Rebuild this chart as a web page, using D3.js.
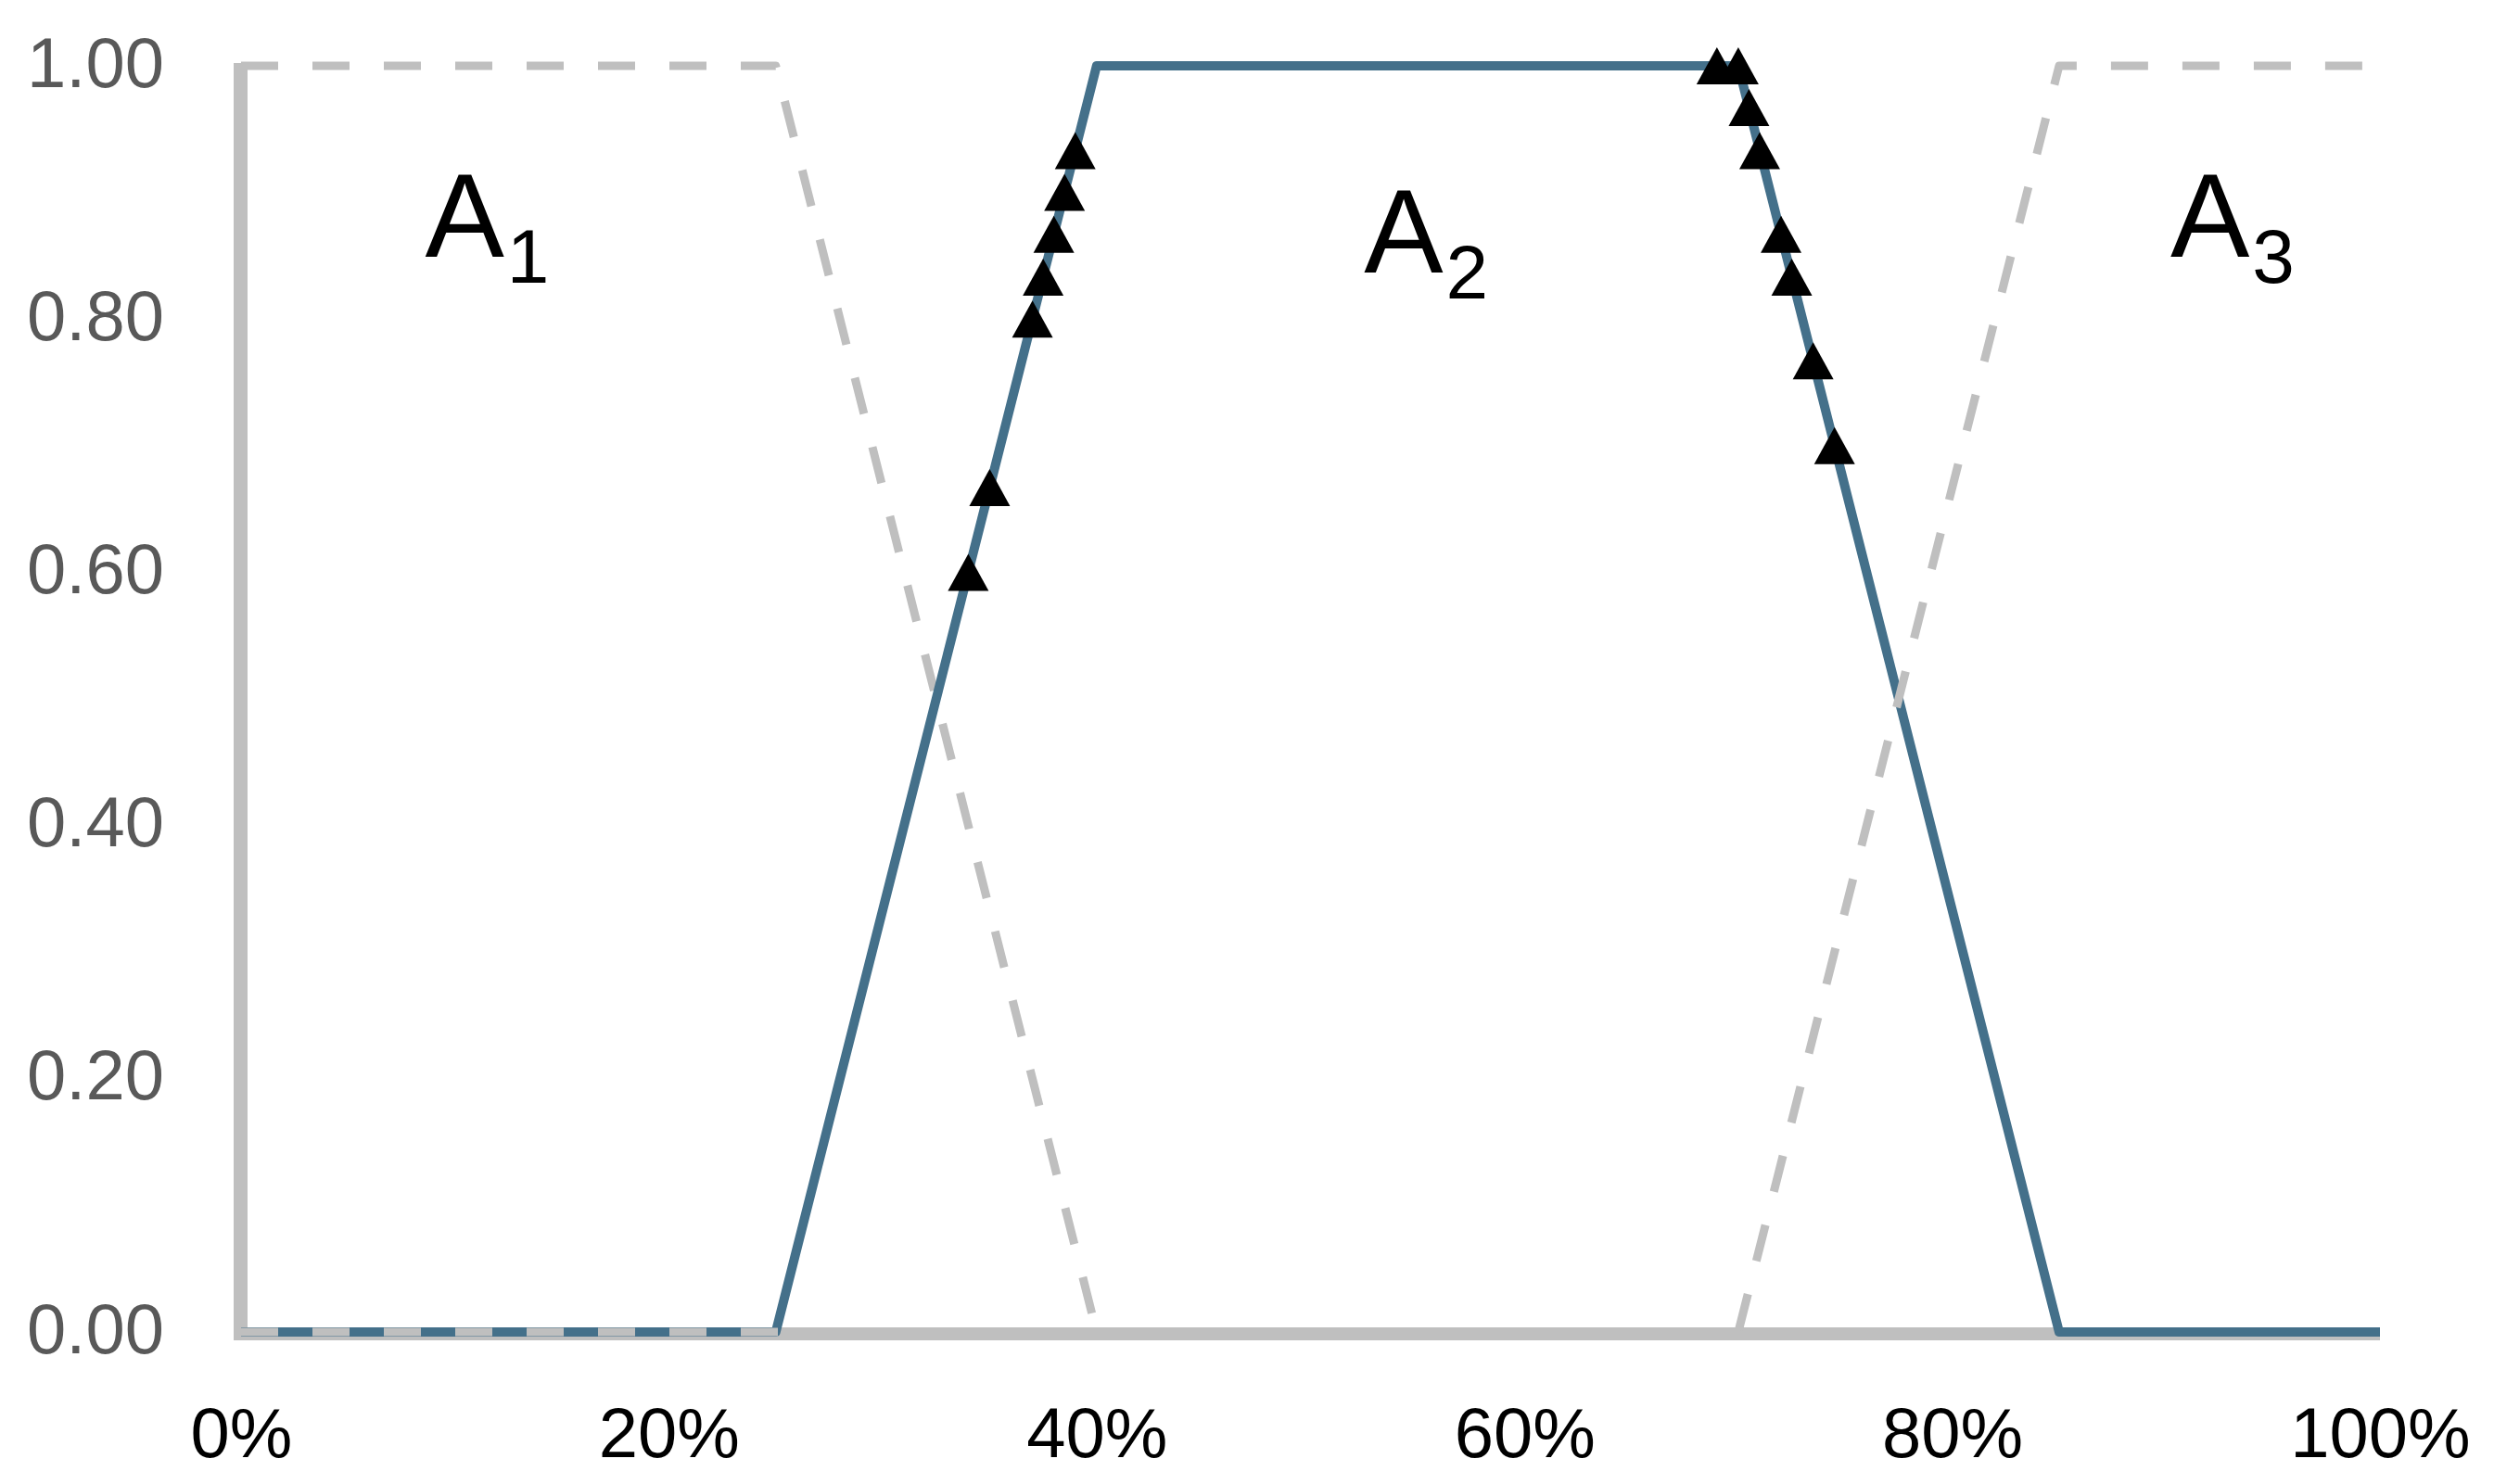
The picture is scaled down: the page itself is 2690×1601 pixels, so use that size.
<!DOCTYPE html>
<html>
<head>
<meta charset="utf-8">
<script src="https://cdn.jsdelivr.net/npm/d3@7"></script>
<style>
  html, body { margin: 0; padding: 0; background: #ffffff; }
  svg { display: block; }
</style>
</head>
<body>
<script>
// ---- data ----
const xTickValues = [0, 0.2, 0.4, 0.6, 0.8, 1.0];
const yTickValues = [0, 0.2, 0.4, 0.6, 0.8, 1.0];

const a1X = [0, 0.25, 0.40, 1.00];
const a1Y = [1, 1, 0, 0];

const a2X = [0, 0.25, 0.40, 0.70, 0.85, 1.00];
const a2Y = [0, 0, 1, 1, 0, 0];

const a3X = [0, 0.70, 0.85, 1.00];
const a3Y = [0, 0, 1, 1];

const obsX = [0.340, 0.350, 0.370, 0.375, 0.380, 0.385, 0.390,
              0.690, 0.700, 0.705, 0.710, 0.720, 0.725, 0.735, 0.745];
const obsY = [0.600, 0.667, 0.800, 0.833, 0.867, 0.900, 0.933,
              1.000, 1.000, 0.967, 0.933, 0.867, 0.833, 0.767, 0.700];

const labelMain = ["A", "A", "A"];
const labelSub = ["1", "2", "3"];
const labelX = [0.086, 0.525, 0.902];
const labelY = [0.849, 0.837, 0.849];

// ---- layout ----
const W = 2690, H = 1601;
const x = d3.scaleLinear().domain([0, 1]).range([260, 2567]);
const y = d3.scaleLinear().domain([0, 1]).range([1437, 71]);

const svg = d3.select("body").append("svg")
  .attr("width", W).attr("height", H)
  .style("font-family", "'Liberation Sans', Arial, sans-serif");

svg.append("rect").attr("width", W).attr("height", H).attr("fill", "#ffffff");

const grey = "#bfbfbf";
const blue = "#44708a";

// axis lines
svg.append("line")
  .attr("x1", x(0) - 0.5).attr("x2", x(0) - 0.5)
  .attr("y1", y(1) - 3).attr("y2", y(0) + 9)
  .attr("stroke", grey).attr("stroke-width", 15);
svg.append("line")
  .attr("x1", x(0) - 8).attr("x2", x(1))
  .attr("y1", y(0) + 2).attr("y2", y(0) + 2)
  .attr("stroke", grey).attr("stroke-width", 14);

// axes labels
const yAxis = d3.axisLeft(y).tickValues(yTickValues).tickSize(0).tickPadding(83)
  .tickFormat(d3.format(".2f"));
const gy = svg.append("g").attr("transform", `translate(${x(0)},0)`).call(yAxis);
gy.select(".domain").remove();
gy.selectAll("text").attr("font-size", 76).attr("fill", "#595959")
  .attr("dy", "0.29em").style("font-family", "'Liberation Sans', Arial, sans-serif");

const xAxis = d3.axisBottom(x).tickValues(xTickValues).tickSize(0).tickPadding(81)
  .tickFormat(d3.format(".0%"));
const gx = svg.append("g").attr("transform", `translate(0,${y(0)})`).call(xAxis);
gx.select(".domain").remove();
gx.selectAll("text").attr("font-size", 76).attr("fill", "#000000")
  .style("font-family", "'Liberation Sans', Arial, sans-serif");

// series
const line = d3.line().x(d => x(d[0])).y(d => y(d[1]));
const zip = (xs, ys) => xs.map((v, i) => [v, ys[i]]);

svg.append("path").datum(zip(a1X, a1Y)).attr("d", line)
  .attr("fill", "none").attr("stroke", grey).attr("stroke-width", 9)
  .attr("stroke-dasharray", "40,37").attr("stroke-linejoin", "round");

svg.append("path").datum(zip(a2X, a2Y)).attr("d", line)
  .attr("fill", "none").attr("stroke", blue).attr("stroke-width", 10)
  .attr("stroke-linejoin", "round");

svg.append("path").datum(zip(a3X, a3Y)).attr("d", line)
  .attr("fill", "none").attr("stroke", grey).attr("stroke-width", 9)
  .attr("stroke-dasharray", "40,37").attr("stroke-linejoin", "round");

// markers (triangles)
const tw = 44, th = 40;
svg.append("g").selectAll("path").data(zip(obsX, obsY)).join("path")
  .attr("d", d => {
    const cx = x(d[0]), cy = y(d[1]);
    return `M${cx},${cy - th / 2}L${cx + tw / 2},${cy + th / 2}L${cx - tw / 2},${cy + th / 2}Z`;
  })
  .attr("fill", "#000000");

// labels A1, A2, A3
const lg = svg.append("g");
labelMain.forEach((m, i) => {
  const t = lg.append("text")
    .attr("x", x(labelX[i])).attr("y", y(labelY[i]))
    .attr("font-size", 128).attr("fill", "#000000");
  t.append("tspan").text(m);
  t.append("tspan").attr("font-size", 82).attr("dx", 3).attr("dy", 28).text(labelSub[i]);
});
</script>
</body>
</html>
